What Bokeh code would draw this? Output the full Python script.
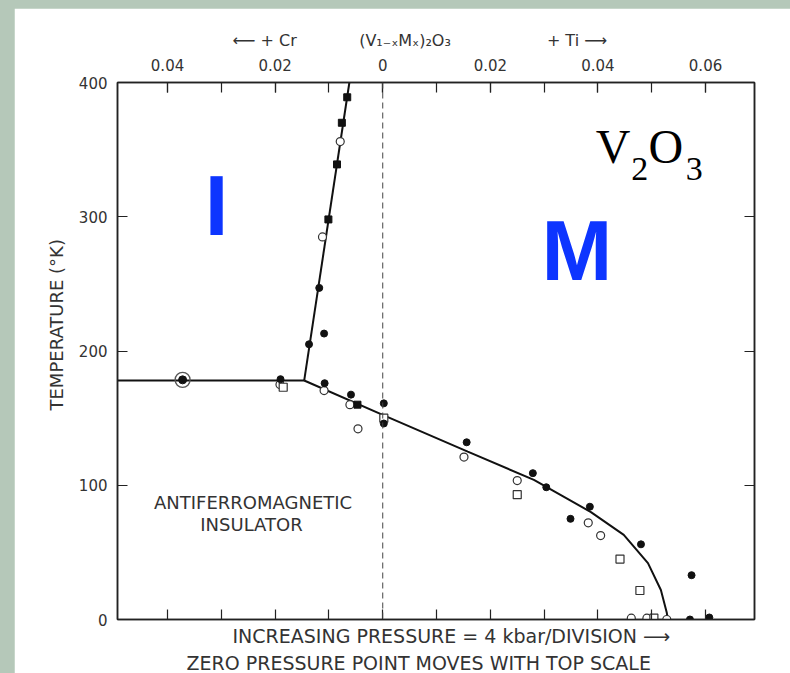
import math
from bokeh.plotting import figure
from bokeh.models import (Range1d, LinearAxis, FixedTicker, CustomJSTickFormatter,
                          Label, Span, Spacer, Title)
from bokeh.layouts import column, row
from bokeh.embed import file_html
from bokeh.resources import INLINE

# ---------------- data ----------------
# composition x (negative = Cr doped, positive = Ti doped), temperature in K
y_ticks = [0, 100, 200, 300, 400]
top_ticks = [-0.04, -0.02, 0.0, 0.02, 0.04, 0.06]
top_tick_labels = ["0.04", "0.02", "0", "0.02", "0.04", "0.06"]
top_minor = [-0.04, -0.03, -0.02, -0.01, 0.0, 0.01, 0.02, 0.03, 0.04, 0.05, 0.06]
bottom_ticks = [-0.04, -0.03, -0.02, -0.01, 0.0, 0.01, 0.02, 0.03, 0.04, 0.05, 0.06]

# phase boundaries
pi_x = [-0.0493, -0.0146]          # paramagnetic insulator / AFI boundary
pi_t = [178, 178]
im_x = [-0.0146, -0.0062]          # insulator / metal boundary
im_t = [178, 400]
afi_x = [-0.0146, 0.0002, 0.0158, 0.0281, 0.0387, 0.0448, 0.0493, 0.0517, 0.0528, 0.0530]
afi_t = [178, 152, 125, 104, 80, 63, 42, 22, 5, 0]

# measured points
fc_x = [-0.0118, -0.0109, -0.0137, -0.0190, -0.0108, -0.0059, 0.0002, 0.0002,
        0.0156, 0.0279, 0.0304, 0.0349, 0.0385, 0.0480, 0.0574, 0.0571, 0.0607]
fc_t = [247, 213, 205, 179, 176, 167.5, 161, 146, 132, 109, 98.5, 75, 84, 56, 33, 0, 1.5]

fs_x = [-0.0066, -0.0076, -0.0085, -0.0101, -0.0047]
fs_t = [389, 370, 339, 298, 160]

oc_x = [-0.0079, -0.0112, -0.0191, -0.0109, -0.0061, -0.0046, 0.0151, 0.0250,
        0.0382, 0.0405, 0.0462, 0.0491, 0.0528]
oc_t = [356, 285, 175, 170.5, 160, 142, 121, 103.5, 72, 62.5, 1, 1, 0]

os_x = [-0.0185, 0.0002, 0.0250, 0.0441, 0.0478, 0.0504]
os_t = [173, 150, 93, 45, 21.6, 1]

bull_x = [-0.0372]
bull_t = [178.5]

# texts
EM = "\u2003"
EN = "\u2002"
TH = "\u2009"
top_title = ("\u27f5 + Cr" + EM * 3 + EN + TH * 2
             + "(V\u2081\u208b\u2093M\u2093)\u2082O\u2083"
             + EM * 6 + "+ Ti \u27f6")
bottom_line1 = "INCREASING PRESSURE = 4 kbar/DIVISION \u27f6"
bottom_line2 = "ZERO PRESSURE POINT MOVES WITH TOP SCALE"
y_title = "TEMPERATURE (\u00b0K)"
afi_line1 = "ANTIFERROMAGNETIC"
afi_line2 = "INSULATOR"

INK = "#222222"
TXT = "#333333"
BLUE = "#0D35FF"

p = figure(width=776, height=665,
           x_range=Range1d(-0.0493, 0.0691), y_range=Range1d(0, 400),
           output_backend="svg", toolbar_location=None,
           x_axis_location=None, y_axis_location=None,
           min_border_left=103, min_border_right=36,
           min_border_top=74, min_border_bottom=54,
           background_fill_color="white", border_fill_color="white",
           outline_line_color=INK, outline_line_width=1.5)
p.xgrid.visible = False
p.ygrid.visible = False


def style_axis(ax, size="14px"):
    ax.axis_line_color = INK
    ax.axis_line_width = 1.5
    ax.major_tick_in = 10
    ax.major_tick_out = 0
    ax.minor_tick_in = 10
    ax.minor_tick_out = 0
    ax.major_tick_line_color = INK
    ax.minor_tick_line_color = INK
    ax.major_tick_line_width = 1.2
    ax.minor_tick_line_width = 1.2
    ax.major_label_text_font = "DejaVu Sans"
    ax.major_label_text_font_size = size
    ax.major_label_text_color = TXT
    ax.major_label_standoff = 10


left = LinearAxis(ticker=FixedTicker(ticks=y_ticks))
style_axis(left, "15px")
p.add_layout(left, "left")

right = LinearAxis(ticker=FixedTicker(ticks=y_ticks),
                   formatter=CustomJSTickFormatter(code="return ''"))
style_axis(right)
right.major_label_text_font_size = "0px"
right.major_label_standoff = 0
p.add_layout(right, "right")

top = LinearAxis(ticker=FixedTicker(ticks=top_ticks, minor_ticks=top_minor),
                 major_label_overrides=dict(zip(top_ticks, top_tick_labels)))
style_axis(top, "15px")
top.major_label_standoff = 12
p.add_layout(top, "above")

bottom = LinearAxis(ticker=FixedTicker(ticks=bottom_ticks),
                    formatter=CustomJSTickFormatter(code="return ''"))
style_axis(bottom)
bottom.major_label_text_font_size = "0px"
bottom.major_label_standoff = 0
p.add_layout(bottom, "below")

# axis titles
p.add_layout(Title(text=top_title, text_font="DejaVu Sans", text_font_size="16px",
                   text_font_style="normal", text_color=TXT, align="left",
                   offset=115, standoff=11), "above")
p.add_layout(Title(text=bottom_line1, text_font="DejaVu Sans", text_font_size="19px",
                   text_font_style="normal", text_color=TXT, align="left",
                   offset=115, standoff=6), "below")
p.add_layout(Title(text=bottom_line2, text_font="DejaVu Sans", text_font_size="19px",
                   text_font_style="normal", text_color=TXT, align="left",
                   offset=69, standoff=0), "below")
p.add_layout(Title(text=y_title, text_font="DejaVu Sans", text_font_size="18px",
                   text_font_style="normal", text_color=TXT, align="left",
                   offset=209, standoff=18), "left")

# zero-composition dashed line
p.add_layout(Span(location=0, dimension="height", line_color="#444444",
                  line_width=1, line_dash="6 4"))

# boundaries
for bx, bt in [(pi_x, pi_t), (im_x, im_t), (afi_x, afi_t)]:
    p.line(bx, bt, line_color="#111111", line_width=2)

# points
p.scatter(bull_x, bull_t, marker="circle", size=15, fill_color=None,
          line_color="#555555", line_width=1.3)
p.scatter(bull_x, bull_t, marker="circle", size=8, color="#111111")
p.scatter(oc_x, oc_t, marker="circle", size=8, fill_color="white",
          line_color="#333333", line_width=1.2)
p.scatter(os_x, os_t, marker="square", size=8, fill_color="white",
          line_color="#333333", line_width=1.2)
p.scatter(fc_x, fc_t, marker="circle", size=7, color="#111111")
p.scatter(fs_x, fs_t, marker="square", size=7, color="#111111")

# region labels
p.add_layout(Label(x=-0.0309, y=273.3, text="I", text_font="Liberation Sans",
                   text_font_style="bold", text_font_size="85px",
                   text_color=BLUE, text_align="center"))
p.add_layout(Label(x=0.0361, y=239.8, text="M", text_font="Liberation Sans",
                   text_font_style="bold", text_font_size="85px",
                   text_color=BLUE, text_align="center"))

# V2O3
for tx, ty, tt, ts in [(0.0396, 332.9, "V", "48px"), (0.0462, 327.5, "2", "34px"),
                       (0.0494, 332.9, "O", "48px"), (0.0563, 327.5, "3", "34px")]:
    p.add_layout(Label(x=tx, y=ty, text=tt, text_font="Liberation Serif",
                       text_font_size=ts, text_color="black", text_align="left"))

# AFI label
p.add_layout(Label(x=-0.0241, y=79.0, text=afi_line1, text_font="DejaVu Sans",
                   text_font_size="18px", text_color=TXT, text_align="center"))
p.add_layout(Label(x=-0.0244, y=63.3, text=afi_line2, text_font="DejaVu Sans",
                   text_font_size="18px", text_color=TXT, text_align="center"))

root = column(Spacer(width=790, height=8),
              row(Spacer(width=14, height=665), p),
              styles={"background-color": "#b5c8b9"})

open("out.html", "w").write(file_html(root, INLINE))
